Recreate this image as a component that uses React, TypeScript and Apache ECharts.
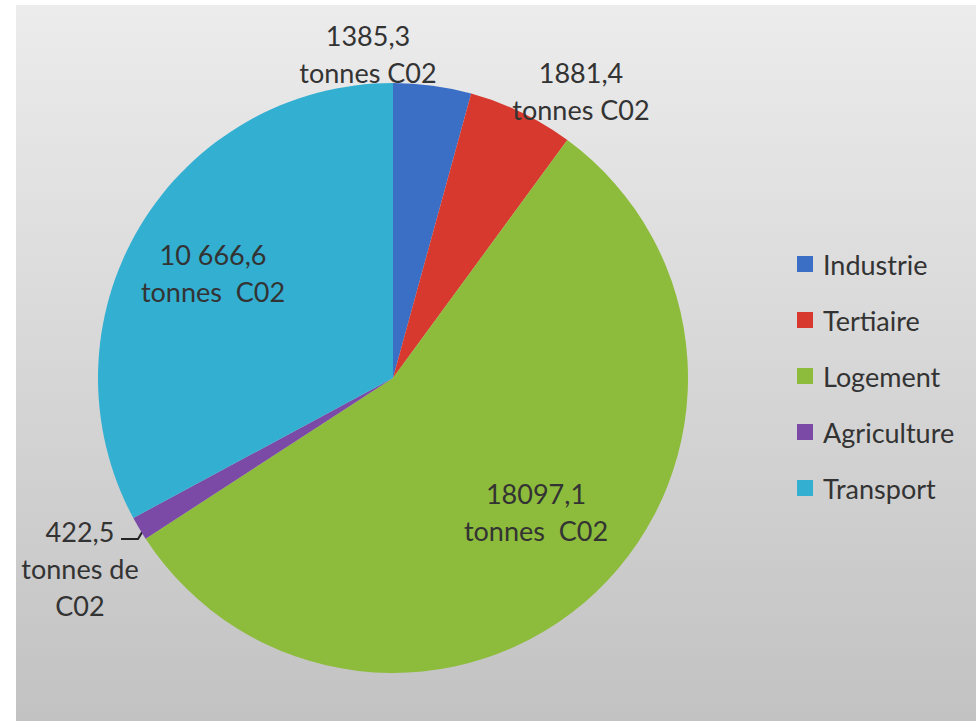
import React, { useEffect, useRef } from "react";
import * as echarts from "echarts";

const categories = ["Industrie", "Tertiaire", "Logement", "Agriculture", "Transport"];
const values = [1385.3, 1881.4, 18097.1, 422.5, 10666.6];
const labelTexts = [
  "1385,3\ntonnes C02",
  "1881,4\ntonnes C02",
  "18097,1\ntonnes  C02",
  "422,5\ntonnes de\nC02",
  "10 666,6\ntonnes  C02",
];
const colors = ["#3b6fc6", "#d7392f", "#8dbb3b", "#7a4aa6", "#33afd1"];
const labelCenters = [
  [368, 54],
  [581, 91],
  [536, 512],
  [80, 568],
  [213, 273],
];

export default function App() {
  const ref = useRef<HTMLDivElement>(null);
  useEffect(() => {
    if (!ref.current) return;
    const chart = echarts.init(ref.current, null, { renderer: "svg" });
    const textColor = "#333333";
    const font = "Lato, 'Open Sans', sans-serif";
    chart.setOption({
      animation: false,
      backgroundColor: "#ffffff",
      graphic: [
        {
          type: "rect",
          z: -10,
          shape: { x: 16, y: 5, width: 960, height: 716 },
          style: {
            fill: new echarts.graphic.LinearGradient(0, 0, 0, 1, [
              { offset: 0, color: "#ececec" },
              { offset: 1, color: "#c2c2c2" },
            ]),
          },
        },
      ],
      legend: {
        orient: "vertical",
        left: 792,
        top: 244,
        icon: "rect",
        itemWidth: 16,
        itemHeight: 16,
        itemGap: 26,
        data: categories,
        textStyle: {
          color: textColor,
          fontFamily: font,
          fontSize: 27,
          lineHeight: 30,
          padding: [0, 0, 0, 5],
        },
      },
      series: [
        {
          type: "pie",
          center: [393, 378],
          radius: 295,
          startAngle: 90,
          clockwise: true,
          avoidLabelOverlap: false,
          data: categories.map((name, i) => ({
            name,
            value: values[i],
            itemStyle: { color: colors[i] },
            label: { formatter: labelTexts[i] },
            labelLine: { show: i === 3 },
          })),
          label: {
            show: true,
            position: "outside",
            color: textColor,
            fontFamily: font,
            fontSize: 27,
            lineHeight: 37,
            align: "center",
          },
          labelLine: {
            lineStyle: { color: "#222", width: 2 },
          },
          labelLayout: (params: any) => {
            const c = labelCenters[params.dataIndex];
            const res: any = {
              x: c[0],
              y: c[1],
              align: "center",
              verticalAlign: "middle",
            };
            if (params.dataIndex === 3) {
              res.labelLinePoints = [
                [144, 529],
                [138, 539],
                [121, 539],
              ];
            }
            return res;
          },
        },
      ],
    });
    return () => chart.dispose();
  }, []);
  return (
    <div
      ref={ref}
      style={{ position: "fixed", left: 0, top: 0, width: 976, height: 721 }}
    />
  );
}
